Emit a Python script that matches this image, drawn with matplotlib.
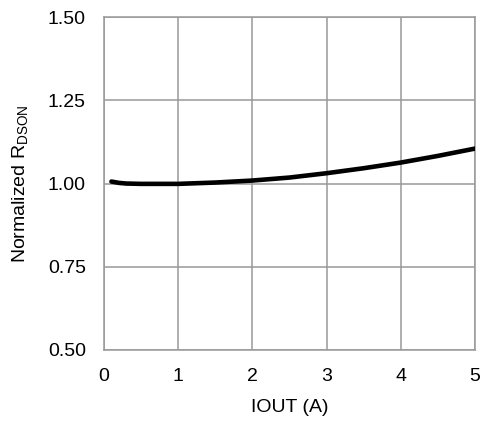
import matplotlib
matplotlib.use("Agg")
import matplotlib.pyplot as plt

plt.rcParams['font.family'] = ['Liberation Sans', 'DejaVu Sans']

# Data
iout = [0.1, 0.2, 0.3, 0.5, 1.0, 1.5, 2.0, 2.5, 3.0, 3.5, 4.0, 4.5, 5.0]
rdson = [1.006, 1.002, 1.000, 0.999, 0.999, 1.003, 1.009, 1.018, 1.031, 1.046, 1.063, 1.083, 1.105]
xticks = [0, 1, 2, 3, 4, 5]
yticks = [0.50, 0.75, 1.00, 1.25, 1.50]

fig = plt.figure(figsize=(4.81, 4.23), dpi=100)
ax = fig.add_axes([0.2162, 0.1726, 0.7713, 0.787])

ax.plot(iout, rdson, color='black', linewidth=3.3, solid_capstyle='round', zorder=3)

ax.set_xlim(0, 5)
ax.set_ylim(0.5, 1.5)
ax.set_xticks(xticks)
ax.set_yticks(yticks)
ax.set_yticklabels([f"{v:.2f}" for v in yticks])
ax.grid(True, color='#999999', linewidth=1.1)
for s in ax.spines.values():
    s.set_color('#999999')
    s.set_linewidth(1.1)
ax.tick_params(length=0, labelsize=14)
ax.tick_params(axis='x', pad=13)
ax.tick_params(axis='y', pad=13)

ax.set_xlabel('IOUT (A)', fontsize=14, labelpad=10)
ax.set_ylabel(r'Normalized R$_{\mathregular{DSON}}$', fontsize=14, labelpad=12)

fig.savefig('out.png', dpi=100)
